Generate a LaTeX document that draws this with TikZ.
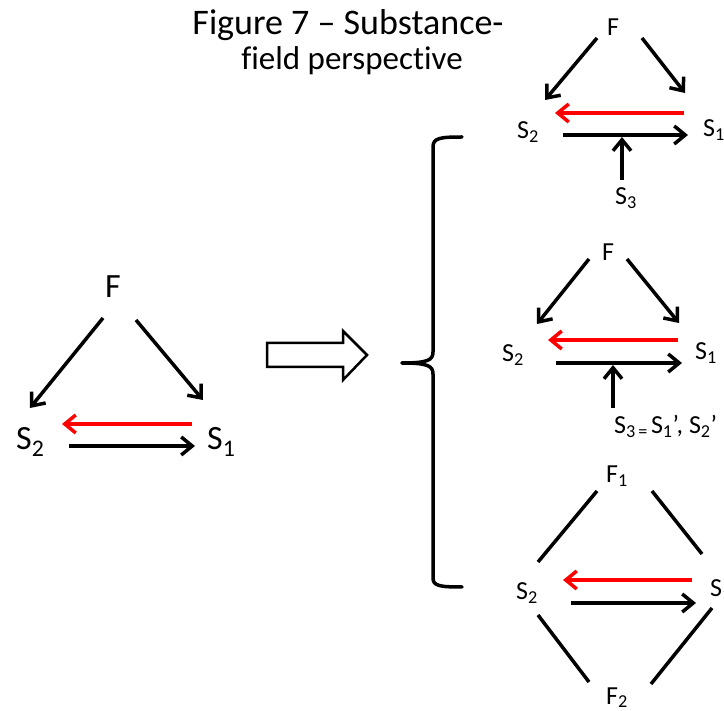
\documentclass[tikz,border=0pt]{standalone}
\usepackage{fontspec}
\setmainfont{Carlito}[Ligatures=CommonOff]
\usetikzlibrary{arrows.meta}
\tikzset{
  bigtxt/.style={inner sep=0pt, font=\fontsize{34}{40}\selectfont},
  smalltxt/.style={inner sep=0pt, font=\fontsize{26}{30}\selectfont},
  titletxt/.style={inner sep=0pt, font=\fontsize{36}{40}\selectfont},
  titletxtb/.style={inner sep=0pt, font=\fontsize{33}{40}\selectfont},
  arr/.style={line width=3.5pt, -{Straight Barb[length=11pt,width=18pt,line width=3.5pt]}},
  redarr/.style={arr, draw=red},
  plainln/.style={line width=3.5pt},
  bracestyle/.style={line width=3.5pt, line cap=round},
  hollow/.style={line width=2.5pt, fill=white, line join=miter}
}
\begin{document}
\begin{tikzpicture}[x=1pt,y=-1pt]
\useasboundingbox (0,0) rectangle (724,711);
\clip (0,0) rectangle (724,711);
% title
\node[titletxt, anchor=base] (t1) at (348,35) {Figure 7 – Substance-};
\node[titletxtb, anchor=base] (t2) at (352,70) {field perspective};
% left diagram
\node[bigtxt, anchor=base] (LF) at (113,298) {F};
\node[bigtxt, anchor=base west] (LS2) at (16,450) {S\textsubscript{2}};
\node[bigtxt, anchor=base west] (LS1) at (207,450) {S\textsubscript{1}};
\coordinate (lf2a) at (103,318); \coordinate (lf2b) at (30,408);
\coordinate (lf1a) at (136,320); \coordinate (lf1b) at (203,400);
\coordinate (lra) at (192,424); \coordinate (lrb) at (62,424);
\coordinate (lba) at (69,446); \coordinate (lbb) at (195,446);
\draw[arr] (lf2a) -- (lf2b);
\draw[arr] (lf1a) -- (lf1b);
\draw[redarr] (lra) -- (lrb);
\draw[arr] (lba) -- (lbb);
% hollow arrow
\draw[hollow] (267,343) -- (343,343) -- (343,331) -- (367,355) -- (343,380) -- (343,367) -- (267,367) -- cycle;
% brace
\draw[bracestyle] (462,137) .. controls (440,137) and (433,138) .. (433,147) -- (433,352)
  .. controls (433,360) and (428,363) .. (402,363);
\draw[bracestyle] (402,363) .. controls (428,363) and (433,366) .. (433,374) -- (433,578)
  .. controls (433,586) and (440,587) .. (462,587);
% top right
\node[smalltxt, anchor=base] (AF) at (613,36) {F};
\node[smalltxt, anchor=base west] (AS2) at (517,139) {S\textsubscript{2}};
\node[smalltxt, anchor=base west] (AS1) at (703,137) {S\textsubscript{1}};
\node[smalltxt, anchor=base west] (AS3) at (615,205) {S\textsubscript{3}};
\coordinate (af2a) at (597,38); \coordinate (af2b) at (545,100);
\coordinate (af1a) at (642,38); \coordinate (af1b) at (685,93);
\coordinate (ara) at (684,113); \coordinate (arb) at (555,113);
\coordinate (aba) at (563,135); \coordinate (abb) at (688,135);
\coordinate (aua) at (622,180); \coordinate (aub) at (622,137);
\draw[arr] (af2a) -- (af2b);
\draw[arr] (af1a) -- (af1b);
\draw[redarr] (ara) -- (arb);
\draw[arr] (aba) -- (abb);
\draw[arr] (aua) -- (aub);
% middle right
\node[smalltxt, anchor=base] (BF) at (608,261) {F};
\node[smalltxt, anchor=base west] (BS2) at (502,362) {S\textsubscript{2}};
\node[smalltxt, anchor=base west] (BS1) at (695,360) {S\textsubscript{1}};
\node[smalltxt, anchor=base west] (BS3) at (614,434) {S\textsubscript{3\,=\,}S\textsubscript{1}’, S\textsubscript{2}’};
\coordinate (bf2a) at (589,259); \coordinate (bf2b) at (537,324);
\coordinate (bf1a) at (627,259); \coordinate (bf1b) at (679,323);
\coordinate (bra) at (678,340); \coordinate (brb) at (548,340);
\coordinate (bba) at (556,363); \coordinate (bbb) at (682,363);
\coordinate (bua) at (613,408); \coordinate (bub) at (613,365);
\draw[arr] (bf2a) -- (bf2b);
\draw[arr] (bf1a) -- (bf1b);
\draw[redarr] (bra) -- (brb);
\draw[arr] (bba) -- (bbb);
\draw[arr] (bua) -- (bub);
% bottom right
\node[smalltxt, anchor=base west] (CF1) at (606,483) {F\textsubscript{1}};
\node[smalltxt, anchor=base west] (CS2) at (516,600) {S\textsubscript{2}};
\node[smalltxt, anchor=base west] (CS1) at (710,597) {S\textsubscript{1}};
\node[smalltxt, anchor=base west] (CF2) at (606,704) {F\textsubscript{2}};
\coordinate (c1a) at (597,491); \coordinate (c1b) at (538,562);
\coordinate (c2a) at (652,491); \coordinate (c2b) at (702,554);
\coordinate (c3a) at (538,615); \coordinate (c3b) at (589,682);
\coordinate (c4a) at (712,608); \coordinate (c4b) at (651,684);
\coordinate (cra) at (692,580); \coordinate (crb) at (563,580);
\coordinate (cba) at (571,603); \coordinate (cbb) at (696,603);
\draw[plainln] (c1a) -- (c1b);
\draw[plainln] (c2a) -- (c2b);
\draw[plainln] (c3a) -- (c3b);
\draw[plainln] (c4a) -- (c4b);
\draw[redarr] (cra) -- (crb);
\draw[arr] (cba) -- (cbb);
\end{tikzpicture}
\end{document}
